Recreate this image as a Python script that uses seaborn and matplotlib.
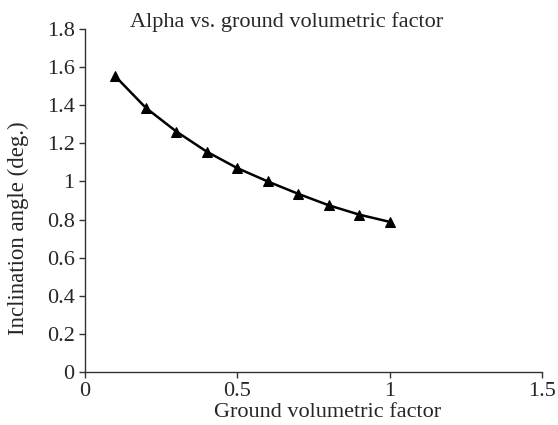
import matplotlib.pyplot as plt
import pandas as pd
import seaborn as sns

factor = [0.1, 0.2, 0.3, 0.4, 0.5, 0.6, 0.7, 0.8, 0.9, 1.0]
alpha = [1.551, 1.386, 1.262, 1.156, 1.07, 1.0, 0.935, 0.875, 0.826, 0.788]
x_ticks = [0, 0.5, 1, 1.5]
y_ticks = [0, 0.2, 0.4, 0.6, 0.8, 1, 1.2, 1.4, 1.6, 1.8]
x_labels = ["0", "0.5", "1", "1.5"]
y_labels = ["0", "0.2", "0.4", "0.6", "0.8", "1", "1.2", "1.4", "1.6", "1.8"]

sns.set_theme(style="ticks")
plt.rcParams["font.family"] = ["Liberation Serif", "DejaVu Serif"]

df = pd.DataFrame({"factor": factor, "alpha": alpha})

fig = plt.figure(figsize=(5.58, 4.25), dpi=100)
ax = fig.add_axes([0.1523, 0.1247, 0.819, 0.807])
sns.lineplot(data=df, x="factor", y="alpha", ax=ax, color="black", linewidth=1.8,
             marker="^", markersize=7, markeredgecolor="black")

ax.set_xlim(0, 1.5)
ax.set_ylim(0, 1.8)
ax.set_xticks(x_ticks)
ax.set_xticklabels(x_labels)
ax.set_yticks(y_ticks)
ax.set_yticklabels(y_labels)
ax.tick_params(labelsize=16, length=4.5, width=1, color="#333333", pad=3)
for s in ["left", "bottom"]:
    ax.spines[s].set_color("#333333")
    ax.spines[s].set_linewidth(1)
sns.despine(ax=ax)

ax.set_xlabel("Ground volumetric factor", fontsize=16)
ax.xaxis.set_label_coords(0.53, -0.09)
ax.set_ylabel("Inclination angle (deg.)", fontsize=16.5)
ax.yaxis.set_label_coords(-0.123, 0.42)
fig.text(0.5134, 0.9365, "Alpha vs. ground volumetric factor", fontsize=16,
         ha="center", va="baseline")

fig.savefig("out.png", dpi=100)
